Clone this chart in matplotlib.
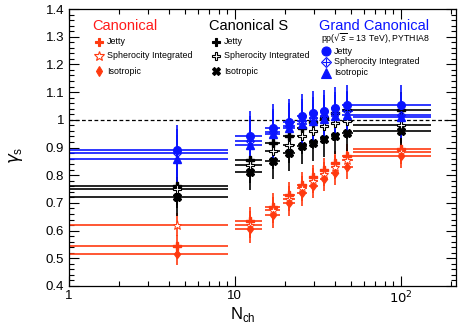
import matplotlib
matplotlib.use("Agg")
import matplotlib.pyplot as plt
from matplotlib.lines import Line2D
from matplotlib.ticker import FixedLocator, FixedFormatter, MultipleLocator, NullFormatter

plt.rcParams["font.family"] = ["Liberation Sans", "DejaVu Sans"]

# multiplicity classes
nch = [4.5, 12.4, 17.0, 21.3, 25.4, 29.8, 34.6, 40.3, 47.4, 100]
nch_lo = [3.9, 2.3, 1.7, 1.7, 1.8, 1.9, 2.0, 2.1, 3.0, 48.3]
nch_hi = [4.6, 2.2, 1.8, 1.8, 1.9, 2.0, 2.1, 2.4, 4.3, 52.0]

# Canonical
can_jetty = [0.545, 0.635, 0.687, 0.729, 0.765, 0.793, 0.817, 0.843, 0.870, 0.895]
can_sph = [0.622, 0.622, 0.675, 0.715, 0.752, 0.780, 0.805, 0.830, 0.855, 0.885]
can_iso = [0.515, 0.606, 0.657, 0.699, 0.735, 0.761, 0.786, 0.807, 0.831, 0.870]
can_err = [0.040, 0.050, 0.048, 0.046, 0.045, 0.045, 0.044, 0.044, 0.044, 0.045]

# Canonical S
cs_jetty = [0.761, 0.855, 0.916, 0.942, 0.970, 0.992, 1.006, 1.024, 1.034, 1.034]
cs_sph = [0.750, 0.837, 0.886, 0.910, 0.940, 0.958, 0.976, 0.988, 0.994, 0.983]
cs_iso = [0.723, 0.813, 0.852, 0.880, 0.904, 0.918, 0.930, 0.940, 0.952, 0.961]
cs_err = [0.070, 0.065, 0.065, 0.065, 0.065, 0.065, 0.065, 0.065, 0.065, 0.065]

# Grand Canonical
gc_jetty = [0.892, 0.943, 0.972, 0.993, 1.012, 1.026, 1.031, 1.042, 1.052, 1.052]
gc_sph = [0.880, 0.925, 0.955, 0.978, 0.994, 1.006, 1.012, 1.024, 1.030, 1.018]
gc_iso = [0.858, 0.910, 0.948, 0.970, 0.985, 0.994, 1.002, 1.012, 1.018, 1.010]
gc_err = [0.088, 0.090, 0.085, 0.082, 0.080, 0.078, 0.076, 0.075, 0.074, 0.075]

ORANGE = "#ff3a10"
BLUE = "#0a14ff"
BLACK = "black"

W, H = 463, 327
fig = plt.figure(figsize=(W / 100, H / 100), dpi=100)
ax = fig.add_axes([68.5 / W, 1 - 286 / H, (456 - 68.5) / W, (286 - 9) / H])


def draw(vals, err, color, marker, ms, face=None, mew=1.0):
    ax.errorbar(nch, vals, yerr=err, xerr=[nch_lo, nch_hi], fmt="none",
                ecolor=color, elinewidth=1.2, capsize=0, zorder=2)
    ax.plot(nch, vals, linestyle="none", marker=marker, ms=ms, color=color,
            mfc=face if face else color, mec=color, mew=mew, zorder=3)


draw(can_jetty, can_err, ORANGE, "P", 5.5)
draw(can_sph, can_err, ORANGE, "*", 6.5, face="white", mew=0.7)
draw(can_iso, can_err, ORANGE, "d", 4.5)

draw(cs_jetty, cs_err, BLACK, "P", 6)
draw(cs_sph, cs_err, BLACK, "P", 6, face="white", mew=0.8)
draw(cs_iso, cs_err, BLACK, "X", 6)

draw(gc_jetty, gc_err, BLUE, "o", 5.5)
draw(gc_sph, gc_err, BLUE, "D", 4.5, face="none", mew=0.8)
ax.plot(nch, gc_sph, linestyle="none", marker="+", ms=4.5, color=BLUE, mew=0.8, zorder=3)
draw(gc_iso, gc_err, BLUE, "^", 5.5)

ax.axhline(1.0, color="black", linestyle=(0, (3, 2)), linewidth=0.9, zorder=1)

ax.set_xscale("log")
ax.set_xlim(1, 215)
ax.set_ylim(0.4, 1.4)
ax.xaxis.set_major_locator(FixedLocator([1, 10, 100]))
ax.xaxis.set_major_formatter(FixedFormatter(["1", "10", "$10^2$"]))
ax.xaxis.set_minor_formatter(NullFormatter())
yt = [0.4, 0.5, 0.6, 0.7, 0.8, 0.9, 1.0, 1.1, 1.2, 1.3, 1.4]
ax.set_yticks(yt)
ax.set_yticklabels(["%g" % v for v in yt])
ax.yaxis.set_minor_locator(MultipleLocator(0.02))
ax.tick_params(which="both", direction="in", top=True, right=True, labelsize=9.5, width=0.8)
ax.tick_params(which="major", length=7, pad=3)
ax.tick_params(which="minor", length=3.5)
for s in ax.spines.values():
    s.set_linewidth(0.9)

ax.set_xlabel("N$_{\\mathregular{ch}}$", fontsize=12)
ax.xaxis.set_label_coords((243 - 68.5) / (456 - 68.5), -0.07)
ax.set_ylabel("$\\gamma_{\\mathregular{s}}$", fontsize=12)
ax.yaxis.set_label_coords((25 - 68.5) / (456 - 68.5), (286 - 155) / 277)


def fx(px):
    return px / W


def fy(py):
    return 1 - py / H


# legend blocks
fig.text(fx(92), fy(26), "Canonical", color="#ff1a1a", fontsize=10.5, va="center")
fig.text(fx(209), fy(26), "Canonical S", color="black", fontsize=10.5, va="center")
fig.text(fx(319), fy(26), "Grand Canonical", color=BLUE, fontsize=10.5, va="center")
fig.text(fx(321), fy(39), "pp($\\sqrt{s}$ = 13 TeV), PYTHIA8", fontsize=6.3, va="center")

labels = ["Jetty", "Spherocity Integrated", "Isotropic"]
rows_a = [42, 56, 71]
rows_b = [51, 62, 72.5]
entries = [
    (99, rows_a, ORANGE, [("P", ORANGE, 6), ("*", "white", 7.5), ("d", ORANGE, 5.5)]),
    (216, rows_a, BLACK, [("P", BLACK, 6), ("P", "white", 6), ("X", BLACK, 6)]),
    (326, rows_b, BLUE, [("o", BLUE, 6.5), ("D", "none", 5.5), ("^", BLUE, 6.5)]),
]
for x0, rows, col, mks in entries:
    for (mk, face, ms), lab, yy in zip(mks, labels, rows):
        fig.add_artist(Line2D([fx(x0)], [fy(yy)], marker=mk, ms=ms, color=col,
                              mfc=face, mec=col, mew=0.8, transform=fig.transFigure))
        if mk == "D":
            fig.add_artist(Line2D([fx(x0)], [fy(yy)], marker="+", ms=5.5, color=col,
                                  mew=0.8, transform=fig.transFigure))
        fig.text(fx(x0 + 8), fy(yy), lab, fontsize=6.4, va="center")

fig.savefig("out.png", dpi=100)
